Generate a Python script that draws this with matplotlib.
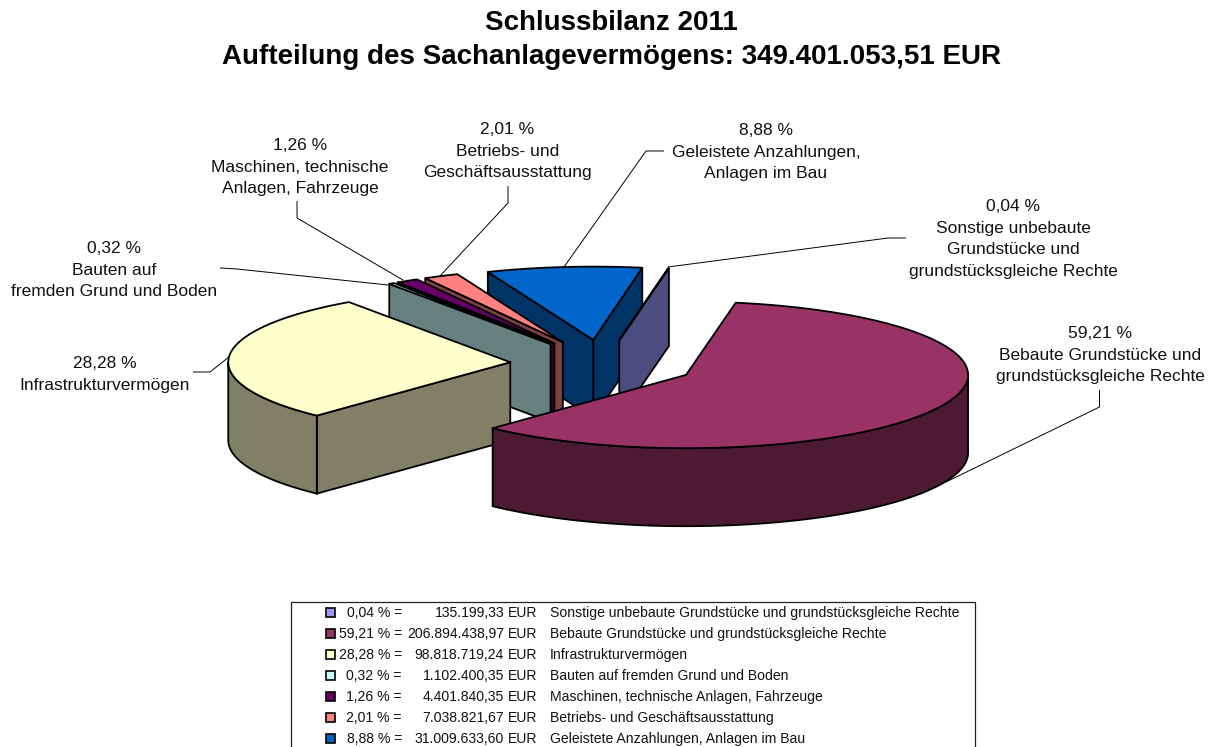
import numpy as np
import matplotlib
matplotlib.use("Agg")
import matplotlib.pyplot as plt
from matplotlib.patches import Polygon, Rectangle

plt.rcParams['font.family'] = ['Liberation Sans', 'DejaVu Sans']

# data, in pie order (clockwise)
names = ["Sonstige unbebaute Grundstücke und grundstücksgleiche Rechte",
         "Bebaute Grundstücke und grundstücksgleiche Rechte",
         "Infrastrukturvermögen",
         "Bauten auf fremden Grund und Boden",
         "Maschinen, technische Anlagen, Fahrzeuge",
         "Betriebs- und Geschäftsausstattung",
         "Geleistete Anzahlungen, Anlagen im Bau"]
shares = [0.04, 59.21, 28.28, 0.32, 1.26, 2.01, 8.88]
amounts = ["135.199,33", "206.894.438,97", "98.818.719,24", "1.102.400,35",
           "4.401.840,35", "7.038.821,67", "31.009.633,60"]
colors = ["#9999FF", "#993366", "#FFFFCC", "#CCFFFF", "#660066", "#FF8080", "#0066CC"]
side_colors = ["#4C4C80", "#4C1A33", "#808066", "#668080", "#330033", "#804040", "#003366"]

# slice labels: text, centre x, y of first line
label_text = ["0,04 %\nSonstige unbebaute\nGrundstücke und\ngrundstücksgleiche Rechte",
              "59,21 %\nBebaute Grundstücke und\ngrundstücksgleiche Rechte",
              "28,28 %\nInfrastrukturvermögen",
              "0,32 %\nBauten auf\nfremden Grund und Boden",
              "1,26 %\nMaschinen, technische\nAnlagen, Fahrzeuge",
              "2,01 %\nBetriebs- und\nGeschäftsausstattung",
              "8,88 %\nGeleistete Anzahlungen,\nAnlagen im Bau"]
label_x = [1013, 1100, 105, 114, 300, 507.5, 766]
label_y = [205, 332, 362, 247, 144, 128, 129]
leaders = [[(906, 238), (888, 238), (668, 267)],
           [(1099.5, 390), (1099.5, 407), (946, 482)],
           [(193, 372), (210, 372), (229, 357)],
           [(220, 268), (237, 269), (388, 285)],
           [(297, 201), (297, 218), (403, 280)],
           [(508, 186), (508, 203), (440, 276)],
           [(664, 151), (646, 151), (564, 267)]]

# pie geometry in pixels
cx, cy = 603, 364
radius = 282
tilt = 0.26
explode = 93
depth = 78
start = 10


def project(ax_x, ax_y, theta, r=radius):
    t = np.radians(theta)
    return ax_x + r * np.sin(t), ax_y - tilt * r * np.cos(t)


fig = plt.figure(figsize=(12.17, 7.47), dpi=100)
ax = fig.add_axes([0, 0, 1, 1])
ax.set_xlim(0, 1217)
ax.set_ylim(747, 0)
ax.axis('off')

# slice angles
edges = start + np.concatenate([[0], np.cumsum(shares)]) / sum(shares) * 360
slices = []
for i in range(len(shares)):
    a0, a1 = edges[i], edges[i + 1]
    mid = (a0 + a1) / 2
    apex = project(cx, cy, mid, explode)
    slices.append((i, a0, a1, apex))

# paint back to front
draw_order = [6, 0, 5, 4, 3, 2, 1]
lw = 1.3
for i in draw_order:
    _, a0, a1, (ax_x, ax_y) = slices[i]
    theta = np.linspace(a0, a1, max(int(a1 - a0) * 2, 2))
    xs, ys = project(ax_x, ax_y, theta)

    # front facing cut faces
    if np.sin(np.radians(a0)) < 0:
        x0, y0 = project(ax_x, ax_y, a0)
        ax.add_patch(Polygon([(ax_x, ax_y), (x0, y0), (x0, y0 + depth), (ax_x, ax_y + depth)],
                             fc=side_colors[i], ec='black', lw=lw))
    if np.sin(np.radians(a1)) > 0:
        x1, y1 = project(ax_x, ax_y, a1)
        ax.add_patch(Polygon([(ax_x, ax_y), (x1, y1), (x1, y1 + depth), (ax_x, ax_y + depth)],
                             fc=side_colors[i], ec='black', lw=lw))

    # outer wall, only the part facing the viewer
    lo, hi = max(a0, 90), min(a1, 270)
    if hi > lo:
        th = np.linspace(lo, hi, 200)
        wx, wy = project(ax_x, ax_y, th)
        pts = np.concatenate([np.column_stack([wx, wy]),
                              np.column_stack([wx, wy + depth])[::-1]])
        ax.add_patch(Polygon(pts, fc=side_colors[i], ec='black', lw=lw))

    # top
    pts = [(ax_x, ax_y)] + list(zip(xs, ys))
    ax.add_patch(Polygon(pts, fc=colors[i], ec='black', lw=lw, joinstyle='round'))

# leader lines and labels
for pts in leaders:
    ax.plot([p[0] for p in pts], [p[1] for p in pts], color='black', lw=0.7,
            solid_capstyle='butt')
for txt, x, y in zip(label_text, label_x, label_y):
    for n, line in enumerate(txt.split("\n")):
        ax.text(x, y + 6 + n * 21.7, line, ha='center', va='baseline', fontsize=12.5,
                color='#111111')

# title
ax.text(611, 30.5, "Schlussbilanz 2011", ha='center', va='baseline', fontsize=20,
        fontweight='bold')
ax.text(611, 64, "Aufteilung des Sachanlagevermögens: 349.401.053,51 EUR", ha='center',
        va='baseline', fontsize=20, fontweight='bold')

# legend box, runs off the bottom of the picture
ax.add_patch(Rectangle((291, 602), 684, 150, fc='white', ec='#222222', lw=0.9))
row_y = 612
for i in range(len(names)):
    y = row_y + i * 21
    ax.add_patch(Rectangle((325.5, y - 4.5), 9, 9, fc=colors[i], ec='black', lw=1.2))
    pct = f"{shares[i]:.2f}".replace(".", ",") + " % ="
    ax.text(402, y + 5, pct, ha='right', va='baseline', fontsize=10.07, color='#111111')
    ax.text(504, y + 5, amounts[i], ha='right', va='baseline', fontsize=10.07, color='#111111')
    ax.text(508, y + 5, "EUR", ha='left', va='baseline', fontsize=10.07, color='#111111')
    ax.text(550, y + 5, names[i], ha='left', va='baseline', fontsize=10.07, color='#111111')

fig.savefig("out.png", dpi=100, facecolor='white')
